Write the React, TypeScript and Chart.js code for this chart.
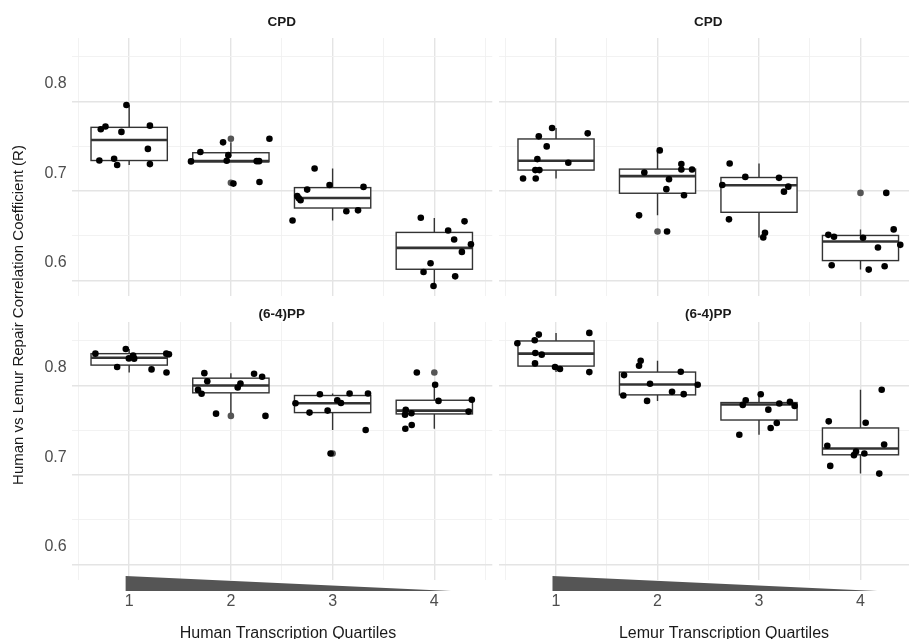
import React, { useEffect, useRef } from 'react';
import { Chart, registerables } from 'chart.js';

Chart.register(...registerables);

const FONT = "'Liberation Sans', Arial, Helvetica, sans-serif";

// ---------------- data ----------------
const quartiles = [1, 2, 3, 4];
const xTickLabels = ['1', '2', '3', '4'];
const xGridValues = [0.5, 1, 1.5, 2, 2.5, 3, 3.5, 4, 4.5];
const yGridValues = [0.6, 0.65, 0.7, 0.75, 0.8, 0.85];
const yTickLabels = ['0.6', '', '0.7', '', '0.8', ''];
const yRange = [0.5825, 0.871];
const xRangeLeft = [0.435, 4.57];
const xRangeRight = [0.438, 4.478];
const wedgeRange = [0.965, 4.165];

const panelTitles = ['CPD', 'CPD', '(6-4)PP', '(6-4)PP'];
const xAxisTitles = ['Human Transcription Quartiles', 'Lemur Transcription Quartiles'];
const yAxisTitle = 'Human vs Lemur Repair Correlation Coefficient (R)';

// box stats per quartile: [lower whisker, Q1, median, Q3, upper whisker]
const cpdHumanBoxes = [
  [0.729, 0.734, 0.757, 0.7711, 0.796],
  [0.7326, 0.7326, 0.7333, 0.7427, 0.7543],
  [0.667, 0.6809, 0.6921, 0.7037, 0.725],
  [0.5936, 0.6124, 0.6363, 0.6536, 0.6697],
];
const cpdHumanOutliers = [[2, 0.7584], [2, 0.709]];
const cpdHumanPoints = [
  [0.973, 0.796], [0.721, 0.769], [0.767, 0.772], [0.924, 0.766], [1.204, 0.773],
  [1.184, 0.747], [0.707, 0.734], [0.852, 0.736], [0.882, 0.729], [1.204, 0.73],
  [1.608, 0.733], [1.7, 0.7435], [1.923, 0.7543], [1.975, 0.74], [1.959, 0.7337],
  [2.254, 0.7333], [2.277, 0.7333], [2.379, 0.7584], [2.025, 0.7082], [2.281, 0.71],
  [2.823, 0.725], [2.75, 0.7015], [2.652, 0.6944], [2.668, 0.6918], [2.685, 0.6896],
  [2.97, 0.7067], [3.304, 0.7045], [3.135, 0.6772], [3.25, 0.6783], [2.606, 0.667],
  [3.867, 0.67], [4.297, 0.666], [4.136, 0.6558], [4.195, 0.6457], [4.36, 0.6404],
  [4.271, 0.6318], [3.963, 0.6191], [3.894, 0.6094], [4.205, 0.6045], [3.992, 0.5936],
];

const cpdLemurBoxes = [
  [0.7139, 0.7233, 0.7337, 0.7581, 0.7704],
  [0.6727, 0.6974, 0.7165, 0.7244, 0.7453],
  [0.648, 0.6761, 0.7064, 0.715, 0.7307],
  [0.612, 0.6221, 0.6435, 0.6502, 0.657],
];
const cpdLemurOutliers = [[2, 0.6547], [4, 0.6978]];
const cpdLemurPoints = [
  [0.961, 0.7704], [0.83, 0.761], [1.312, 0.7644], [0.908, 0.7498], [0.816, 0.7356],
  [1.121, 0.7315], [0.796, 0.7233], [0.836, 0.7233], [0.675, 0.7139], [0.8, 0.7139],
  [2.022, 0.7453], [2.235, 0.73], [2.235, 0.724], [2.34, 0.724], [1.87, 0.7206],
  [2.113, 0.7131], [2.087, 0.702], [2.261, 0.6952], [1.818, 0.6727], [2.094, 0.6547],
  [2.711, 0.7307], [2.865, 0.7157], [3.197, 0.7146], [2.638, 0.7067], [3.289, 0.7048],
  [3.246, 0.6992], [2.704, 0.6682], [3.059, 0.6532], [3.042, 0.648],
  [4.254, 0.6978], [4.327, 0.657], [3.683, 0.6509], [3.739, 0.6487], [4.025, 0.6476],
  [4.392, 0.6397], [4.172, 0.6367], [3.716, 0.6169], [4.081, 0.612], [4.238, 0.6157],
];

const ppHumanBoxes = [
  [0.8146, 0.8228, 0.8311, 0.8356, 0.8408],
  [0.7685, 0.7918, 0.8, 0.8082, 0.8138],
  [0.7502, 0.7697, 0.7801, 0.7888, 0.791],
  [0.7517, 0.7682, 0.7719, 0.7835, 0.8008],
];
const ppHumanOutliers = [[2, 0.766], [3, 0.7239], [4, 0.8146]];
const ppHumanPoints = [
  [0.668, 0.8356], [0.967, 0.8408], [0.997, 0.8303], [1.039, 0.8334], [1.049, 0.83],
  [1.365, 0.8356], [1.391, 0.8348], [0.882, 0.8206], [1.22, 0.818], [1.367, 0.8146],
  [1.739, 0.8138], [1.768, 0.8048], [2.228, 0.8131], [2.307, 0.8098], [2.094, 0.8022],
  [2.067, 0.7978], [1.677, 0.7951], [1.712, 0.7907], [1.854, 0.7685], [2.34, 0.766],
  [2.875, 0.7902], [3.167, 0.791], [3.348, 0.791], [2.635, 0.7801], [3.046, 0.7835],
  [3.082, 0.7805], [2.773, 0.7697], [2.951, 0.7719], [3.325, 0.7502], [2.98, 0.7239],
  [3.828, 0.8146], [4.008, 0.8008], [4.041, 0.7828], [4.369, 0.784], [3.719, 0.7727],
  [3.775, 0.7689], [3.712, 0.7674], [4.337, 0.7708], [3.778, 0.7558], [3.715, 0.7517],
];

const ppLemurBoxes = [
  [0.815, 0.8217, 0.8356, 0.8498, 0.8588],
  [0.7828, 0.7895, 0.8011, 0.815, 0.8277],
  [0.7449, 0.7614, 0.7787, 0.7809, 0.7902],
  [0.7015, 0.7225, 0.7296, 0.7525, 0.7952],
];
const ppLemurOutliers: number[][] = [];
const ppLemurPoints = [
  [0.619, 0.8472], [0.79, 0.8506], [0.83, 0.8569], [1.328, 0.8588], [0.796, 0.8363],
  [0.859, 0.8345], [0.793, 0.8247], [0.99, 0.8206], [1.039, 0.8184], [1.328, 0.815],
  [1.834, 0.8277], [1.818, 0.8221], [1.67, 0.8116], [2.229, 0.8154], [1.926, 0.8019],
  [2.396, 0.8008], [2.143, 0.7929], [2.258, 0.7903], [1.663, 0.7888], [1.897, 0.7828],
  [3.017, 0.7902], [2.869, 0.7835], [2.84, 0.7783], [3.2, 0.7798], [3.305, 0.7817],
  [3.351, 0.7772], [3.092, 0.773], [3.175, 0.7581], [3.115, 0.7525], [2.806, 0.7449],
  [4.209, 0.7952], [3.687, 0.7599], [4.051, 0.7584], [3.673, 0.7326], [4.233, 0.734],
  [3.956, 0.7262], [3.936, 0.7221], [4.038, 0.7239], [3.702, 0.7101], [4.185, 0.7015],
];

// ---------------- layout ----------------
const BOX_HALF = 0.375;
const MAJOR_GRID = '#e4e4e4';
const MINOR_GRID = '#f0f0f0';
const TICK_COLOR = '#4d4d4d';
const TEXT_COLOR = '#1a1a1a';

interface PanelSpec {
  left: number;
  width: number;
  height: number;
  area: { l: number; t: number; r: number; b: number };
  xRange: number[];
  title: string;
  titleBaseline: number;
  boxes: number[][];
  outliers: number[][];
  points: number[][];
  showX: boolean;
  showY: boolean;
  xTitle?: string;
  xTitleCenter?: number;
  yTitle?: boolean;
}

const H = 639;
const panels: PanelSpec[] = [
  { left: 0, width: 493, height: H, area: { l: 71.7, t: 38, r: 492.3, b: 296 }, xRange: xRangeLeft,
    title: panelTitles[0], titleBaseline: 26, boxes: cpdHumanBoxes, outliers: cpdHumanOutliers, points: cpdHumanPoints,
    showX: false, showY: true },
  { left: 495, width: 414, height: H, area: { l: 4, t: 38, r: 414, b: 296 }, xRange: xRangeRight,
    title: panelTitles[1], titleBaseline: 26, boxes: cpdLemurBoxes, outliers: cpdLemurOutliers, points: cpdLemurPoints,
    showX: false, showY: false },
  { left: 0, width: 493, height: H, area: { l: 71.7, t: 322, r: 492.3, b: 580 }, xRange: xRangeLeft,
    title: panelTitles[2], titleBaseline: 318, boxes: ppHumanBoxes, outliers: ppHumanOutliers, points: ppHumanPoints,
    showX: true, showY: true, xTitle: xAxisTitles[0], xTitleCenter: 288, yTitle: true },
  { left: 495, width: 414, height: H, area: { l: 4, t: 322, r: 414, b: 580 }, xRange: xRangeRight,
    title: panelTitles[3], titleBaseline: 318, boxes: ppLemurBoxes, outliers: ppLemurOutliers, points: ppLemurPoints,
    showX: true, showY: false, xTitle: xAxisTitles[1], xTitleCenter: 229 },
];

const isMajorY = (v: number) => Math.abs(v * 10 - Math.round(v * 10)) < 1e-6;

function makeConfig(s: PanelSpec): any {
  const W = s.width;
  const boxPlugin = {
    id: 'boxes',
    beforeDatasetsDraw(chart: any) {
      const { ctx } = chart;
      const x = chart.scales.x;
      const y = chart.scales.y;
      ctx.save();
      s.boxes.forEach((b, i) => {
        const q = quartiles[i];
        const xl = x.getPixelForValue(q - BOX_HALF);
        const xr = x.getPixelForValue(q + BOX_HALF);
        const xc = x.getPixelForValue(q);
        const [lo, q1, med, q3, hi] = b.map((v) => y.getPixelForValue(v));
        ctx.strokeStyle = '#333333';
        ctx.lineWidth = 1.4;
        ctx.beginPath();
        ctx.moveTo(xc, q3);
        ctx.lineTo(xc, hi);
        ctx.moveTo(xc, q1);
        ctx.lineTo(xc, lo);
        ctx.stroke();
        ctx.fillStyle = '#ffffff';
        ctx.fillRect(xl, q3, xr - xl, q1 - q3);
        ctx.strokeRect(xl, q3, xr - xl, q1 - q3);
        ctx.lineWidth = 2.6;
        ctx.beginPath();
        ctx.moveTo(xl, med);
        ctx.lineTo(xr, med);
        ctx.stroke();
      });
      ctx.restore();
    },
  };
  const decorPlugin = {
    id: 'decor',
    afterDraw(chart: any) {
      const { ctx, chartArea } = chart;
      const x = chart.scales.x;
      ctx.save();
      ctx.fillStyle = TEXT_COLOR;
      ctx.font = `bold 13.5px ${FONT}`;
      ctx.textAlign = 'center';
      ctx.textBaseline = 'alphabetic';
      ctx.fillText(s.title, x.getPixelForValue(2.5), s.titleBaseline);
      if (s.showX) {
        const x0 = x.getPixelForValue(wedgeRange[0]);
        const x1 = x.getPixelForValue(wedgeRange[1]);
        ctx.fillStyle = '#555555';
        ctx.beginPath();
        ctx.moveTo(x0, chartArea.bottom - 4);
        ctx.lineTo(x0, chartArea.bottom + 11);
        ctx.lineTo(x1, chartArea.bottom + 11);
        ctx.closePath();
        ctx.fill();
        ctx.fillStyle = TEXT_COLOR;
        ctx.font = `16px ${FONT}`;
        ctx.fillText(s.xTitle || '', s.xTitleCenter || 0, 637.5);
      }
      if (s.yTitle) {
        ctx.translate(23, 315);
        ctx.rotate(-Math.PI / 2);
        ctx.fillStyle = TEXT_COLOR;
        ctx.font = `15px ${FONT}`;
        ctx.textAlign = 'center';
        ctx.fillText(yAxisTitle, 0, 0);
      }
      ctx.restore();
    },
  };

  return {
    type: 'scatter',
    data: {
      datasets: [
        {
          data: s.points.map(([px, py]) => ({ x: px, y: py })),
          pointRadius: 3.3,
          pointHoverRadius: 3.3,
          pointBackgroundColor: '#000000',
          pointBorderWidth: 0,
          borderWidth: 0,
          clip: false,
        },
        {
          data: s.outliers.map(([px, py]) => ({ x: px, y: py })),
          pointRadius: 3.3,
          pointHoverRadius: 3.3,
          pointBackgroundColor: '#555555',
          pointBorderWidth: 0,
          borderWidth: 0,
          clip: false,
        },
      ],
    },
    options: {
      responsive: false,
      animation: false,
      events: [],
      layout: {
        autoPadding: false,
        padding: {
          left: s.showY ? 0 : s.area.l,
          right: W - s.area.r,
          top: s.area.t,
          bottom: s.showX ? 0 : s.height - s.area.b,
        },
      },
      plugins: { legend: { display: false }, tooltip: { enabled: false }, title: { display: false } },
      scales: {
        x: {
          type: 'linear',
          min: s.xRange[0],
          max: s.xRange[1],
          afterBuildTicks: (a: any) => {
            a.ticks = xGridValues.map((v) => ({ value: v }));
          },
          afterFit: (a: any) => {
            a.height = s.showX ? s.height - s.area.b : 0;
            a.paddingLeft = 0;
            a.paddingRight = 0;
          },
          border: { display: false },
          grid: {
            drawTicks: false,
            color: (c: any) => (c.tick && Number.isInteger(c.tick.value) ? MAJOR_GRID : MINOR_GRID),
            lineWidth: (c: any) => (c.tick && Number.isInteger(c.tick.value) ? 1.4 : 0.9),
          },
          ticks: {
            display: s.showX,
            autoSkip: false,
            maxRotation: 0,
            padding: 12,
            color: TICK_COLOR,
            font: { family: FONT, size: 16 },
            callback: (v: number) => (Number.isInteger(v) ? xTickLabels[quartiles.indexOf(v)] : ''),
          },
        },
        y: {
          type: 'linear',
          min: yRange[0],
          max: yRange[1],
          afterBuildTicks: (a: any) => {
            a.ticks = yGridValues.map((v) => ({ value: v }));
          },
          afterFit: (a: any) => {
            a.width = s.showY ? s.area.l : 0;
            a.paddingTop = 0;
            a.paddingBottom = 0;
          },
          border: { display: false },
          grid: {
            drawTicks: false,
            color: (c: any) => (c.tick && isMajorY(c.tick.value) ? MAJOR_GRID : MINOR_GRID),
            lineWidth: (c: any) => (c.tick && isMajorY(c.tick.value) ? 1.4 : 0.9),
          },
          ticks: {
            display: s.showY,
            autoSkip: false,
            padding: 5,
            labelOffset: -17.5,
            color: TICK_COLOR,
            font: { family: FONT, size: 16 },
            callback: (_v: number, i: number) => yTickLabels[i],
          },
        },
      },
    },
    plugins: [boxPlugin, decorPlugin],
  };
}

function Panel({ spec }: { spec: PanelSpec }) {
  const ref = useRef<HTMLCanvasElement | null>(null);
  useEffect(() => {
    if (!ref.current) return;
    const cfg = makeConfig(spec);
    const chart: any = new Chart(ref.current, cfg);
    // nudge padding so that the plotting area sits exactly where the panel should be
    const pad = { ...cfg.options.layout.padding };
    for (let k = 0; k < 4; k++) {
      const ca = chart.chartArea;
      const dl = spec.area.l - ca.left;
      const dr = ca.right - spec.area.r;
      const dt = spec.area.t - ca.top;
      const db = ca.bottom - spec.area.b;
      if (Math.max(Math.abs(dl), Math.abs(dr), Math.abs(dt), Math.abs(db)) < 0.05) break;
      pad.left += dl;
      pad.right += dr;
      pad.top += dt;
      pad.bottom += db;
      chart.options.layout.padding = { ...pad };
      chart.update('none');
    }
    return () => chart.destroy();
  }, [spec]);
  return (
    <canvas
      ref={ref}
      width={spec.width}
      height={spec.height}
      style={{ position: 'absolute', left: spec.left, top: 0, width: spec.width, height: spec.height }}
    />
  );
}

export default function App() {
  return (
    <div
      style={{
        position: 'fixed',
        left: 0,
        top: 0,
        width: 909,
        height: 639,
        background: '#ffffff',
        overflow: 'hidden',
      }}
    >
      {panels.map((p, i) => (
        <Panel key={i} spec={p} />
      ))}
    </div>
  );
}
